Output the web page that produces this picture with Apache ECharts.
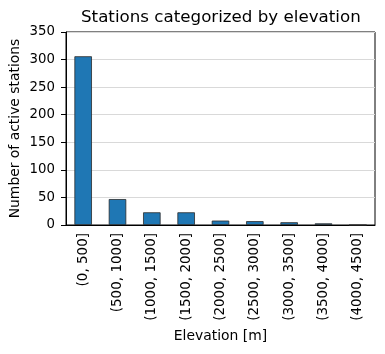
<!DOCTYPE html>
<html><head><meta charset="utf-8">
<script src="https://cdn.jsdelivr.net/npm/echarts@6/dist/echarts.min.js"></script>
<style>html,body{margin:0;padding:0;background:#fff}#c{width:385px;height:354px}</style>
</head><body><div id="c"></div>
<script>
var categories = ["(0, 500]", "(500, 1000]", "(1000, 1500]", "(1500, 2000]", "(2000, 2500]", "(2500, 3000]", "(3000, 3500]", "(3500, 4000]", "(4000, 4500]"];
var stationCounts = [306, 47, 23, 23, 8, 7, 5, 3, 0];
var yTicks = [0, 50, 100, 150, 200, 250, 300, 350];

var font = "DejaVu Sans";
var chart = echarts.init(document.getElementById('c'));
chart.setOption({
  animation: false,
  textStyle: {fontFamily: font},
  title: {
    text: "Stations categorized by elevation",
    left: 81, top: 9, padding: 0,
    textStyle: {fontFamily: font, fontSize: 16.7, fontWeight: 'normal', color: '#000'}
  },
  grid: {left: 66, right: 10, top: 32, bottom: 129, containLabel: false, outerBoundsMode: 'none', show: true, borderColor: '#000', borderWidth: 1, backgroundColor: 'transparent'},
  xAxis: {
    type: 'category',
    data: categories,
    name: "Elevation [m]",
    nameLocation: 'middle',
    nameGap: 104,
    nameTextStyle: {fontFamily: font, fontSize: 13.9, color: '#000'},
    axisLine: {lineStyle: {color: '#000', width: 1}},
    axisTick: {alignWithLabel: true, length: 5, lineStyle: {color: '#000'}},
    axisLabel: {rotate: 90, fontFamily: font, fontSize: 13.5, color: '#000', margin: 8, interval: 0},
    splitLine: {show: false}
  },
  yAxis: {
    type: 'value',
    min: yTicks[0], max: yTicks[yTicks.length - 1], interval: 50,
    name: "Number of active stations",
    nameLocation: 'middle',
    nameMoveOverlap: false,
    nameGap: 44,
    nameTextStyle: {fontFamily: font, fontSize: 13.9, color: '#000'},
    axisLine: {show: true, lineStyle: {color: '#000', width: 1}},
    axisTick: {show: true, length: 5, lineStyle: {color: '#000'}},
    axisLabel: {fontFamily: font, fontSize: 13.3, color: '#000', margin: 11},
    splitLine: {show: true, lineStyle: {color: '#d9d9d9', width: 1}}
  },
  series: [{
    type: 'bar',
    data: stationCounts,
    barWidth: '51%',
    itemStyle: {color: '#1f77b4', borderColor: '#2b2b2b', borderWidth: 0.8}
  }]
});
</script></body></html>
